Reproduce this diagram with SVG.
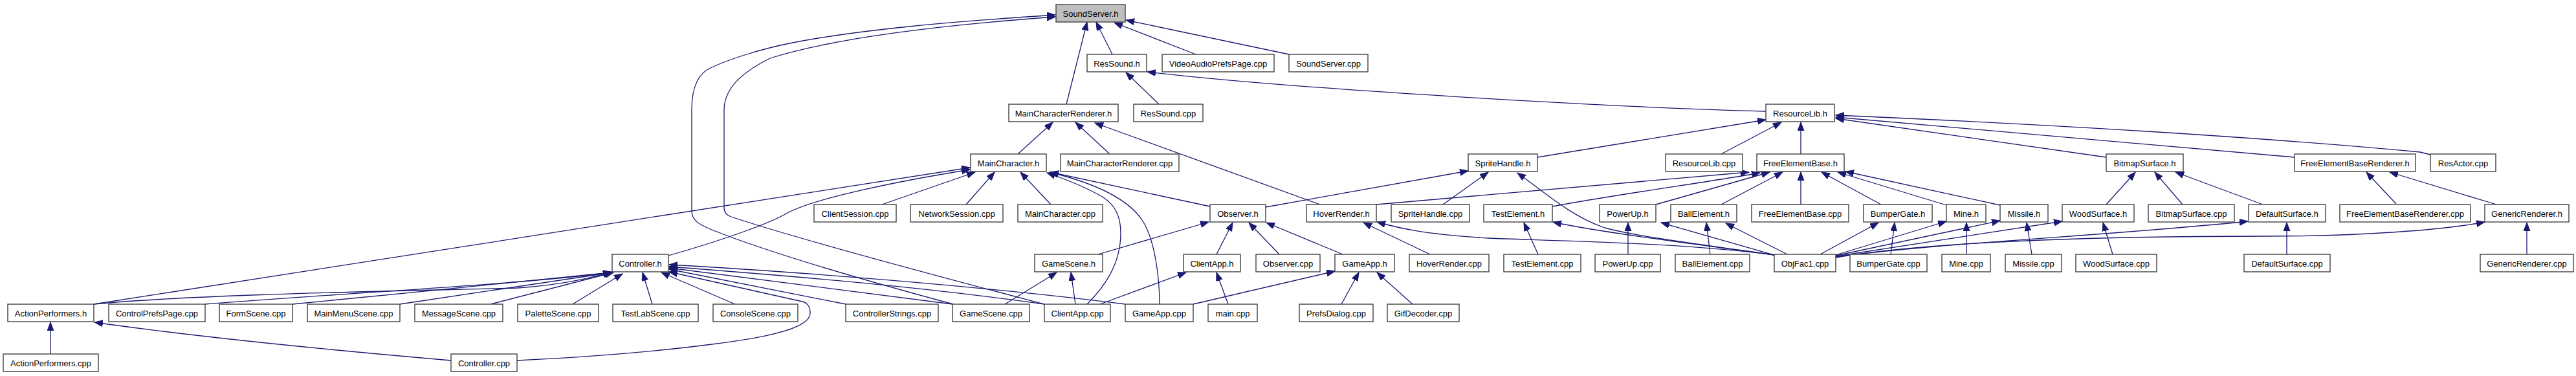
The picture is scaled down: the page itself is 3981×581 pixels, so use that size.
<svg xmlns="http://www.w3.org/2000/svg" width="3981" height="581" viewBox="0 0 3981 581">
<defs>
<style>
.n rect{fill:#ffffff;stroke:#404040;stroke-width:1.4}
.n.hl rect{fill:#bfbfbf}
.n text{font-family:"Liberation Sans",Arial,sans-serif;font-size:13px;fill:#000000;text-anchor:middle}
#edges path{fill:none;stroke:#191970;stroke-width:1.3;marker-end:url(#ah)}
</style>
<marker id="ah" markerUnits="userSpaceOnUse" markerWidth="16" markerHeight="12" refX="13" refY="5" orient="auto">
<path d="M0,0 L13,5 L0,10 z" fill="#191970" stroke="#191970" stroke-width="1"/>
</marker>
</defs>
<rect width="3981" height="581" fill="#ffffff"/>
<g id="edges">
<path d="M1719,84 L1694,34"/>
<path d="M1648,161 L1680,34"/>
<path d="M1848,84 L1722,35"/>
<path d="M1992,84 L1740,31"/>
<path d="M1473,470 C1380,445 1200,395 1100,355 C1075,345 1069,338 1069,325 L1069,170 C1069,125 1085,110 1100,104 C1130,90 1180,75 1220,67 C1330,45 1480,33 1631,23"/>
<path d="M1614,470 C1500,440 1250,375 1130,335 C1122,332 1119,328 1119,320 L1119,170 C1119,130 1160,105 1190,90 C1300,55 1480,37 1631,26"/>
<path d="M1791,161 L1740,112"/>
<path d="M2729,172 C2500,166 2000,138 1773,111"/>
<path d="M1573,238 L1627,189"/>
<path d="M1715,238 L1662,189"/>
<path d="M2040,316 L1692,190"/>
<path d="M1870,319 L1623,266"/>
<path d="M1624,316 L1577,266"/>
<path d="M1493,316 L1537,266"/>
<path d="M1363,316 L1507,266"/>
<path d="M1033,395 C1120,370 1190,345 1215,330 C1260,305 1400,278 1499,262"/>
<path d="M145,470 L1499,259"/>
<path d="M145,470 C300,455 600,450 800,445 C870,440 910,430 945,420"/>
<path d="M317,470 C500,455 800,440 945,421"/>
<path d="M452,470 C600,455 850,432 945,421"/>
<path d="M618,470 L946,421"/>
<path d="M758,470 L948,421"/>
<path d="M885,470 L962,423"/>
<path d="M1008,470 L993,421"/>
<path d="M1136,470 L1022,421"/>
<path d="M1307,470 L1034,416"/>
<path d="M1472,470 L1034,414"/>
<path d="M1614,470 C1400,440 1200,425 1034,412"/>
<path d="M1739,470 C1500,440 1200,418 1034,409"/>
<path d="M799,557 C900,552 1000,545 1100,532 C1200,520 1250,505 1252,485 C1253,475 1248,468 1240,466 L1034,420"/>
<path d="M697,557 C500,540 300,520 146,498"/>
<path d="M78,547 L78,498"/>
<path d="M1697,393 L1868,343"/>
<path d="M1880,393 L1905,344"/>
<path d="M1977,393 L1930,344"/>
<path d="M2075,393 L1957,344"/>
<path d="M1553,470 L1633,421"/>
<path d="M1662,470 L1655,421"/>
<path d="M1700,470 L1833,421"/>
<path d="M1898,470 L1880,421"/>
<path d="M1680,470 C1705,445 1732,410 1732,360 C1732,330 1720,315 1705,305 C1680,290 1650,278 1618,267"/>
<path d="M1792,470 C1792,430 1785,370 1765,340 C1745,310 1700,285 1622,266"/>
<path d="M1844,470 L2063,419"/>
<path d="M2073,470 L2100,421"/>
<path d="M2183,470 L2128,421"/>
<path d="M1956,320 L2269,264"/>
<path d="M2230,316 L2300,266"/>
<path d="M2742,394 C2650,380 2540,368 2480,352 C2430,335 2390,300 2345,267"/>
<path d="M2376,243 L2729,185"/>
<path d="M2127,316 L2703,266"/>
<path d="M2399,319 C2500,300 2650,280 2720,267"/>
<path d="M2559,316 L2735,266"/>
<path d="M2660,316 L2755,266"/>
<path d="M2783,316 L2783,266"/>
<path d="M2907,316 L2815,266"/>
<path d="M3008,317 L2840,266"/>
<path d="M3091,317 L2852,265"/>
<path d="M2660,238 L2753,189"/>
<path d="M2783,238 L2783,189"/>
<path d="M3255,243 L2837,183"/>
<path d="M3546,243 L2837,181"/>
<path d="M3756,239 L3740,235 C3600,222 3300,198 2837,178"/>
<path d="M2377,393 L2355,344"/>
<path d="M2742,394 C2600,375 2450,355 2400,343"/>
<path d="M2210,393 L2107,344"/>
<path d="M2742,394 C2600,375 2400,372 2300,368 C2200,362 2160,352 2128,343"/>
<path d="M2516,393 L2516,344"/>
<path d="M2742,394 L2567,344"/>
<path d="M2643,393 L2637,344"/>
<path d="M2762,393 L2667,345"/>
<path d="M2813,393 L2903,344"/>
<path d="M2922,393 L2928,344"/>
<path d="M2837,394 L3008,342"/>
<path d="M3039,393 L3039,344"/>
<path d="M2837,395 L3091,341"/>
<path d="M3140,393 L3132,344"/>
<path d="M2837,396 L3187,342"/>
<path d="M3265,393 L3250,344"/>
<path d="M2837,397 C3000,375 3250,365 3474,342"/>
<path d="M2837,398 C3000,370 3300,365 3500,365 C3650,365 3780,355 3840,343"/>
<path d="M3255,316 L3300,266"/>
<path d="M3373,316 L3330,266"/>
<path d="M3497,316 L3362,266"/>
<path d="M3534,393 L3534,344"/>
<path d="M3703,315 L3657,266"/>
<path d="M3858,316 L3693,266"/>
<path d="M3905,393 L3905,344"/>
</g>
<g id="n_SoundServer_h" class="n hl"><rect x="1632" y="7" width="107" height="27"/><text x="1685.5" y="26">SoundServer.h</text></g>
<g id="n_ResSound_h" class="n"><rect x="1680" y="84" width="92" height="27"/><text x="1726" y="103">ResSound.h</text></g>
<g id="n_VideoAudioPrefsPage_cpp" class="n"><rect x="1796" y="84" width="173" height="27"/><text x="1882.5" y="103">VideoAudioPrefsPage.cpp</text></g>
<g id="n_SoundServer_cpp" class="n"><rect x="1992" y="84" width="122" height="27"/><text x="2053" y="103">SoundServer.cpp</text></g>
<g id="n_MainCharacterRenderer_h" class="n"><rect x="1559" y="161" width="169" height="27"/><text x="1643.5" y="180">MainCharacterRenderer.h</text></g>
<g id="n_ResSound_cpp" class="n"><rect x="1752" y="161" width="107" height="27"/><text x="1805.5" y="180">ResSound.cpp</text></g>
<g id="n_ResourceLib_h" class="n"><rect x="2729" y="161" width="106" height="27"/><text x="2782" y="180">ResourceLib.h</text></g>
<g id="n_MainCharacter_h" class="n"><rect x="1500" y="238" width="117" height="27"/><text x="1558.5" y="257">MainCharacter.h</text></g>
<g id="n_MainCharacterRenderer_cpp" class="n"><rect x="1639" y="238" width="183" height="27"/><text x="1730.5" y="257">MainCharacterRenderer.cpp</text></g>
<g id="n_SpriteHandle_h" class="n"><rect x="2269" y="238" width="107" height="27"/><text x="2322.5" y="257">SpriteHandle.h</text></g>
<g id="n_ResourceLib_cpp" class="n"><rect x="2574" y="238" width="119" height="27"/><text x="2633.5" y="257">ResourceLib.cpp</text></g>
<g id="n_FreeElementBase_h" class="n"><rect x="2715" y="238" width="135" height="27"/><text x="2782.5" y="257">FreeElementBase.h</text></g>
<g id="n_BitmapSurface_h" class="n"><rect x="3255" y="238" width="119" height="27"/><text x="3314.5" y="257">BitmapSurface.h</text></g>
<g id="n_FreeElementBaseRenderer_h" class="n"><rect x="3546" y="238" width="187" height="27"/><text x="3639.5" y="257">FreeElementBaseRenderer.h</text></g>
<g id="n_ResActor_cpp" class="n"><rect x="3756" y="238" width="101" height="27"/><text x="3806.5" y="257">ResActor.cpp</text></g>
<g id="n_ClientSession_cpp" class="n"><rect x="1258" y="316" width="127" height="27"/><text x="1321.5" y="335">ClientSession.cpp</text></g>
<g id="n_NetworkSession_cpp" class="n"><rect x="1407" y="316" width="143" height="27"/><text x="1478.5" y="335">NetworkSession.cpp</text></g>
<g id="n_MainCharacter_cpp" class="n"><rect x="1573" y="316" width="131" height="27"/><text x="1638.5" y="335">MainCharacter.cpp</text></g>
<g id="n_Observer_h" class="n"><rect x="1870" y="316" width="86" height="27"/><text x="1913" y="335">Observer.h</text></g>
<g id="n_HoverRender_h" class="n"><rect x="2019" y="316" width="108" height="27"/><text x="2073" y="335">HoverRender.h</text></g>
<g id="n_SpriteHandle_cpp" class="n"><rect x="2150" y="316" width="121" height="27"/><text x="2210.5" y="335">SpriteHandle.cpp</text></g>
<g id="n_TestElement_h" class="n"><rect x="2293" y="316" width="106" height="27"/><text x="2346" y="335">TestElement.h</text></g>
<g id="n_PowerUp_h" class="n"><rect x="2472" y="316" width="87" height="27"/><text x="2515.5" y="335">PowerUp.h</text></g>
<g id="n_BallElement_h" class="n"><rect x="2582" y="316" width="102" height="27"/><text x="2633" y="335">BallElement.h</text></g>
<g id="n_FreeElementBase_cpp" class="n"><rect x="2707" y="316" width="150" height="27"/><text x="2782" y="335">FreeElementBase.cpp</text></g>
<g id="n_BumperGate_h" class="n"><rect x="2880" y="316" width="106" height="27"/><text x="2933" y="335">BumperGate.h</text></g>
<g id="n_Mine_h" class="n"><rect x="3008" y="316" width="61" height="27"/><text x="3038.5" y="335">Mine.h</text></g>
<g id="n_Missile_h" class="n"><rect x="3091" y="316" width="74" height="27"/><text x="3128" y="335">Missile.h</text></g>
<g id="n_WoodSurface_h" class="n"><rect x="3187" y="316" width="111" height="27"/><text x="3242.5" y="335">WoodSurface.h</text></g>
<g id="n_BitmapSurface_cpp" class="n"><rect x="3320" y="316" width="133" height="27"/><text x="3386.5" y="335">BitmapSurface.cpp</text></g>
<g id="n_DefaultSurface_h" class="n"><rect x="3475" y="316" width="119" height="27"/><text x="3534.5" y="335">DefaultSurface.h</text></g>
<g id="n_FreeElementBaseRenderer_cpp" class="n"><rect x="3616" y="316" width="202" height="27"/><text x="3717" y="335">FreeElementBaseRenderer.cpp</text></g>
<g id="n_GenericRenderer_h" class="n"><rect x="3840" y="316" width="130" height="27"/><text x="3905" y="335">GenericRenderer.h</text></g>
<g id="n_Controller_h" class="n"><rect x="946" y="393" width="87" height="27"/><text x="989.5" y="412">Controller.h</text></g>
<g id="n_GameScene_h" class="n"><rect x="1599" y="393" width="105" height="27"/><text x="1651.5" y="412">GameScene.h</text></g>
<g id="n_ClientApp_h" class="n"><rect x="1829" y="393" width="88" height="27"/><text x="1873" y="412">ClientApp.h</text></g>
<g id="n_Observer_cpp" class="n"><rect x="1941" y="393" width="99" height="27"/><text x="1990.5" y="412">Observer.cpp</text></g>
<g id="n_GameApp_h" class="n"><rect x="2063" y="393" width="92" height="27"/><text x="2109" y="412">GameApp.h</text></g>
<g id="n_HoverRender_cpp" class="n"><rect x="2178" y="393" width="123" height="27"/><text x="2239.5" y="412">HoverRender.cpp</text></g>
<g id="n_TestElement_cpp" class="n"><rect x="2324" y="393" width="119" height="27"/><text x="2383.5" y="412">TestElement.cpp</text></g>
<g id="n_PowerUp_cpp" class="n"><rect x="2465" y="393" width="101" height="27"/><text x="2515.5" y="412">PowerUp.cpp</text></g>
<g id="n_BallElement_cpp" class="n"><rect x="2589" y="393" width="115" height="27"/><text x="2646.5" y="412">BallElement.cpp</text></g>
<g id="n_ObjFac1_cpp" class="n"><rect x="2742" y="393" width="95" height="27"/><text x="2789.5" y="412">ObjFac1.cpp</text></g>
<g id="n_BumperGate_cpp" class="n"><rect x="2859" y="393" width="119" height="27"/><text x="2918.5" y="412">BumperGate.cpp</text></g>
<g id="n_Mine_cpp" class="n"><rect x="3001" y="393" width="75" height="27"/><text x="3038.5" y="412">Mine.cpp</text></g>
<g id="n_Missile_cpp" class="n"><rect x="3099" y="393" width="87" height="27"/><text x="3142.5" y="412">Missile.cpp</text></g>
<g id="n_WoodSurface_cpp" class="n"><rect x="3208" y="393" width="125" height="27"/><text x="3270.5" y="412">WoodSurface.cpp</text></g>
<g id="n_DefaultSurface_cpp" class="n"><rect x="3468" y="393" width="133" height="27"/><text x="3534.5" y="412">DefaultSurface.cpp</text></g>
<g id="n_GenericRenderer_cpp" class="n"><rect x="3833" y="393" width="144" height="27"/><text x="3905" y="412">GenericRenderer.cpp</text></g>
<g id="n_ActionPerformers_h" class="n"><rect x="12" y="470" width="133" height="27"/><text x="78.5" y="489">ActionPerformers.h</text></g>
<g id="n_ControlPrefsPage_cpp" class="n"><rect x="168" y="470" width="149" height="27"/><text x="242.5" y="489">ControlPrefsPage.cpp</text></g>
<g id="n_FormScene_cpp" class="n"><rect x="339" y="470" width="113" height="27"/><text x="395.5" y="489">FormScene.cpp</text></g>
<g id="n_MainMenuScene_cpp" class="n"><rect x="475" y="470" width="143" height="27"/><text x="546.5" y="489">MainMenuScene.cpp</text></g>
<g id="n_MessageScene_cpp" class="n"><rect x="641" y="470" width="136" height="27"/><text x="709" y="489">MessageScene.cpp</text></g>
<g id="n_PaletteScene_cpp" class="n"><rect x="800" y="470" width="125" height="27"/><text x="862.5" y="489">PaletteScene.cpp</text></g>
<g id="n_TestLabScene_cpp" class="n"><rect x="947" y="470" width="132" height="27"/><text x="1013" y="489">TestLabScene.cpp</text></g>
<g id="n_ConsoleScene_cpp" class="n"><rect x="1102" y="470" width="131" height="27"/><text x="1167.5" y="489">ConsoleScene.cpp</text></g>
<g id="n_ControllerStrings_cpp" class="n"><rect x="1307" y="470" width="143" height="27"/><text x="1378.5" y="489">ControllerStrings.cpp</text></g>
<g id="n_GameScene_cpp" class="n"><rect x="1472" y="470" width="119" height="27"/><text x="1531.5" y="489">GameScene.cpp</text></g>
<g id="n_ClientApp_cpp" class="n"><rect x="1614" y="470" width="102" height="27"/><text x="1665" y="489">ClientApp.cpp</text></g>
<g id="n_GameApp_cpp" class="n"><rect x="1739" y="470" width="105" height="27"/><text x="1791.5" y="489">GameApp.cpp</text></g>
<g id="n_main_cpp" class="n"><rect x="1867" y="470" width="76" height="27"/><text x="1905" y="489">main.cpp</text></g>
<g id="n_PrefsDialog_cpp" class="n"><rect x="2008" y="470" width="114" height="27"/><text x="2065" y="489">PrefsDialog.cpp</text></g>
<g id="n_GifDecoder_cpp" class="n"><rect x="2144" y="470" width="111" height="27"/><text x="2199.5" y="489">GifDecoder.cpp</text></g>
<g id="n_ActionPerformers_cpp" class="n"><rect x="5" y="547" width="147" height="27"/><text x="78.5" y="566">ActionPerformers.cpp</text></g>
<g id="n_Controller_cpp" class="n"><rect x="697" y="547" width="102" height="27"/><text x="748" y="566">Controller.cpp</text></g>
</svg>
